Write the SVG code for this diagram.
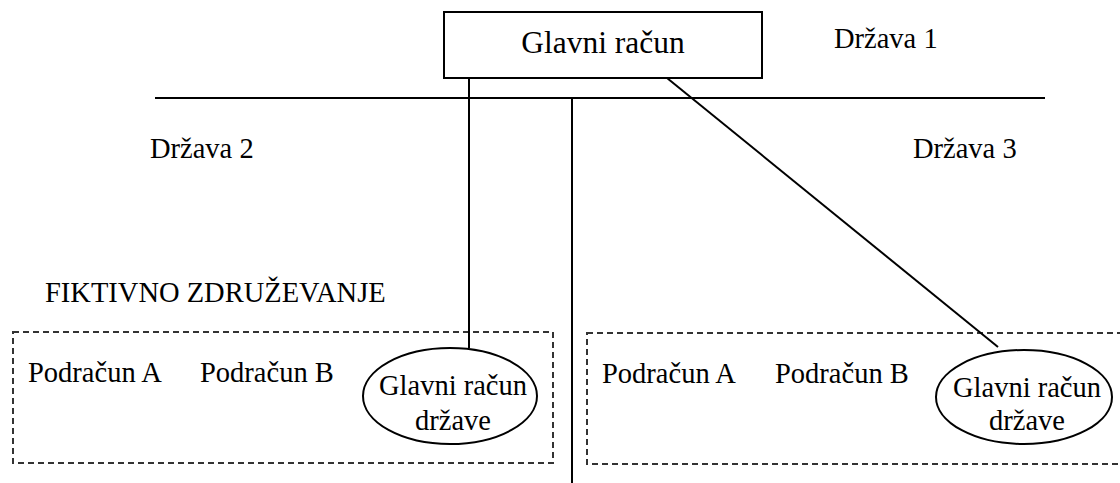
<svg xmlns="http://www.w3.org/2000/svg" width="1120" height="483" viewBox="0 0 1120 483" font-family="'Liberation Serif', 'DejaVu Serif', serif">
  <style>
    text { font-family: "Liberation Serif", "DejaVu Serif", serif; fill: #000; font-size: 28.5px; }
    .mid { text-anchor: middle; }
    .box { fill: #fff; stroke: #000; stroke-width: 2; }
    .line { stroke: #000; stroke-width: 2; fill: none; }
    .group { fill: none; stroke: #333; stroke-width: 2; stroke-dasharray: 6 4; }
    .acct { fill: #fff; stroke: #000; stroke-width: 2; }
  </style>
  <rect width="1120" height="483" fill="#fff"/>

  <!-- border between countries -->
  <line class="line" x1="155" y1="98" x2="1045" y2="98"/>

  <!-- country labels -->
  <text x="834" y="48">Država 1</text>
  <text x="150" y="158">Država 2</text>
  <text x="913" y="158">Država 3</text>
  <text x="45" y="302">FIKTIVNO ZDRUŽEVANJE</text>

  <!-- dashed groupings -->
  <rect id="group-left" class="group" x="13" y="332" width="540" height="131"/>
  <rect id="group-right" class="group" x="587" y="333" width="545" height="131"/>

  <!-- connectors -->
  <g id="connectors">
    <line class="line" x1="469" y1="78" x2="469" y2="348"/>
    <line class="line" x1="667" y1="78" x2="998" y2="347"/>
    <line class="line" x1="572" y1="98" x2="572" y2="483"/>
  </g>

  <!-- master account -->
  <g id="master">
    <rect class="box" x="444" y="12" width="318" height="66"/>
    <text class="mid" x="603" y="53" style="font-size:31.5px">Glavni račun</text>
  </g>

  <!-- sub-accounts, left -->
  <g id="left-sub-a"><text x="28" y="382">Podračun A</text></g>
  <g id="left-sub-b"><text x="200" y="382">Podračun B</text></g>
  <g id="left-main">
    <ellipse class="acct" cx="450" cy="396" rx="87" ry="48"/>
    <text class="mid" x="453" y="395">Glavni račun</text>
    <text class="mid" x="453" y="430">države</text>
  </g>

  <!-- sub-accounts, right -->
  <g id="right-sub-a"><text x="602" y="383">Podračun A</text></g>
  <g id="right-sub-b"><text x="775" y="383">Podračun B</text></g>
  <g id="right-main">
    <ellipse class="acct" cx="1024" cy="397" rx="88" ry="47"/>
    <text class="mid" x="1027" y="397">Glavni račun</text>
    <text class="mid" x="1027" y="430">države</text>
  </g>
</svg>
